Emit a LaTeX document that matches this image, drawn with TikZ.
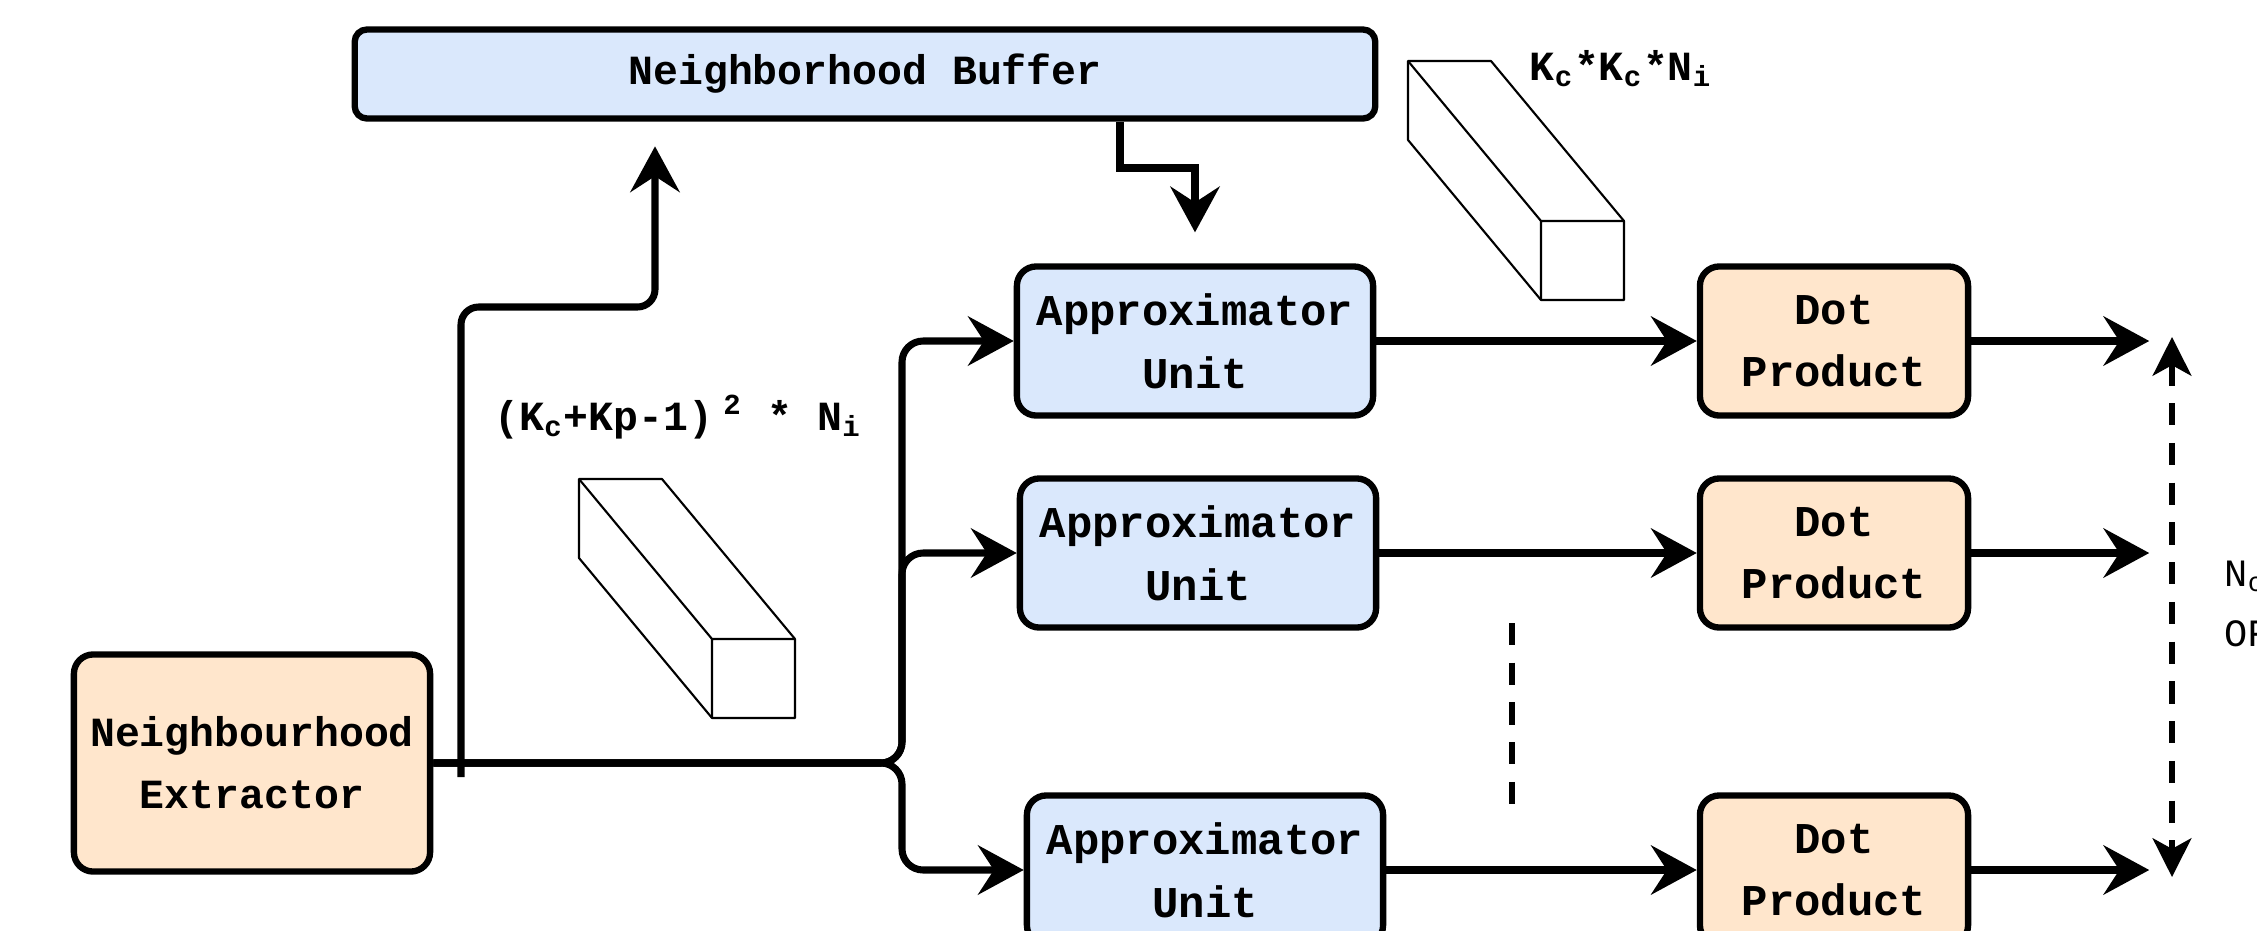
\documentclass[tikz,border=0pt]{standalone}
\usepackage{fontspec}
\setmainfont{Liberation Mono}
\usetikzlibrary{arrows.meta}

\definecolor{unitblue}{HTML}{DAE8FC}
\definecolor{unitpeach}{HTML}{FFE6CC}

\begin{document}
\begin{tikzpicture}[x=0.01cm,y=-0.01cm,
	block/.style={draw,line width=1.8pt,rounded corners=5.5pt,align=center,inner sep=0pt,
		font=\fontsize{11.8pt}{17.6pt}\selectfont\bfseries},
	unit/.style={block,fill=unitblue,minimum width=3.56cm,minimum height=1.49cm,
		font=\fontsize{12.5pt}{17.8pt}\selectfont\bfseries},
	dot/.style={unit,fill=unitpeach,minimum width=2.68cm},
	link/.style={line width=2pt,-{Stealth[length=13pt,width=14pt,inset=4.5pt]}},
	dimlabel/.style={font=\fontsize{11.8pt}{14pt}\selectfont\bfseries,inner sep=0pt},
	prism/.style={line width=0.6pt,line join=round}]
	\useasboundingbox (0,0) rectangle (2257,930);
	\clip (0,0) rectangle (2257,930);
	\fill[white] (0,0) rectangle (2257,930);

	\node[block,fill=unitpeach,minimum width=3.56cm,minimum height=2.17cm] (ext) at (252,763) {Neighbourhood\\Extractor};
	\node[block,fill=unitblue,rounded corners=3.5pt,minimum width=10.2cm,minimum height=0.89cm] (buf) at (865,74) {Neighborhood Buffer};

	\node[unit] (au1) at (1195,341) {Approximator\\Unit};
	\node[unit] (au2) at (1198,553) {Approximator\\Unit};
	\node[unit] (au3) at (1205,870) {Approximator\\Unit};
	\node[dot] (dp1) at (1834,341) {Dot\\Product};
	\node[dot] (dp2) at (1834,553) {Dot\\Product};
	\node[dot] (dp3) at (1834,870) {Dot\\Product};

	% fan out to the approximators
	\coordinate (fork) at (902,763);
	\foreach \i in {1,2,3}
		\draw[link,rounded corners=6pt] (ext.east) -- (fork) |- (au\i.west);

	\coordinate (tick) at (461,777);
	\coordinate (upbend) at (655,307);
	\draw[link,rounded corners=5pt,shorten >=7pt] (tick) |- (upbend) -- (upbend |- buf.south);

	\coordinate (drop) at (1120,168);
	\draw[link,shorten >=8.8pt] (drop |- buf.south) -- (drop) -| (au1.north);

	\foreach \i in {1,2,3} {
		\draw[link] (au\i.east) -- (dp\i.west);
		\draw[link] (dp\i.east) -- ++(178,0) coordinate (out\i);
	}

	\coordinate (spantop) at (2172,337);
	\coordinate (spanbot) at (2172,877);
	\draw[line width=1.5pt,dash pattern=on 6.3pt off 5pt,
		{Stealth[length=11pt,width=11pt,inset=3pt]}-{Stealth[length=11pt,width=11pt,inset=3pt]}] (spantop) -- (spanbot);
	\draw[line width=1.8pt,dash pattern=on 6.3pt off 5pt] (1512,623) -- (1512,817);

	\node[anchor=base west,inner sep=0pt,font=\fontsize{11pt}{12pt}\selectfont] (nc) at (2224,586) {N\textsubscript{c}};
	\node[anchor=base west,inner sep=0pt,font=\fontsize{11pt}{12pt}\selectfont] (ofm) at (2224,646) {OFMs};

	% data blocks
	\begin{scope}[shift={(579,479)},prism]
		\draw (0,0) -- (83,0) -- (216,160) -- (216,239) -- (133,239) -- (0,79) -- cycle;
		\draw (0,0) -- (133,160) -- (216,160) (133,160) -- (133,239);
	\end{scope}
	\begin{scope}[shift={(1408,61)},prism]
		\draw (0,0) -- (83,0) -- (216,160) -- (216,239) -- (133,239) -- (0,79) -- cycle;
		\draw (0,0) -- (133,160) -- (216,160) (133,160) -- (133,239);
	\end{scope}

	\node[dimlabel,anchor=base] (insize) at (678,430) {(K\textsubscript{c}+Kp-1)\textsuperscript{\hspace{3pt}2} * N\textsubscript{i}};
	\node[dimlabel,anchor=base] (kersize) at (1621,80) {K\textsubscript{c}*K\textsubscript{c}*N\textsubscript{i}};
\end{tikzpicture}
\end{document}
